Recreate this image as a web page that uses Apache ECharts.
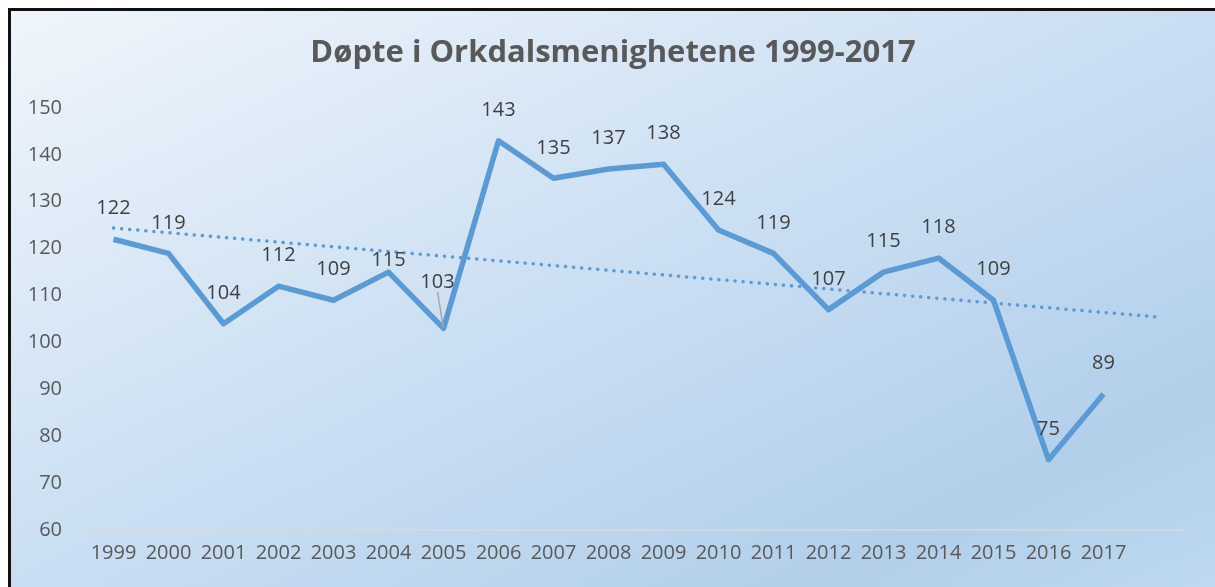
<!DOCTYPE html>
<html>
<head>
<meta charset="utf-8">
<script src="https://cdn.jsdelivr.net/npm/echarts@6/dist/echarts.min.js"></script>
<style>
body { margin: 0; background: #fff; }
#chart {
    position: absolute; left: 8px; top: 8px;
    width: 1204px; height: 576px;
    border-left: 3px solid #111; border-top: 3px solid #111;
    background: linear-gradient(to bottom right, #eff5fb 0%, #c9def2 50%, #b2cfea 83%, #bdd8ef 100%);
}
</style>
</head>
<body>
<div id="chart"></div>
<script>
// årstall (siste kategori er tom, trendlinja går ett år fram)
var years = ['1999', '2000', '2001', '2002', '2003', '2004', '2005', '2006', '2007', '2008',
             '2009', '2010', '2011', '2012', '2013', '2014', '2015', '2016', '2017', ''];
var dopte = [122, 119, 104, 112, 109, 115, 103, 143, 135, 137,
             138, 124, 119, 107, 115, 118, 109, 75, 89];
// trendlinje, lest av bildet: start og slutt
var trend = [[0, 124.4], [19, 105.4]];
var yTicks = [60, 150, 10];   // min, max, steg

var font = 'Open Sans';
var myChart = echarts.init(document.getElementById('chart'));

var points = dopte.map(function (v, i) {
    if (i == 6)  // 103 er flyttet opp med strek
        return { value: v, labelLine: { show: true, lineStyle: { color: '#a6a6a6', width: 1.5 } } };
    return v;
});

var option = {
    backgroundColor: 'transparent',
    title: {
        text: 'Døpte i Orkdalsmenighetene 1999-2017',
        left: 'center', top: 22,
        textStyle: { fontFamily: font, fontWeight: 'bold', fontSize: 31, color: '#595959' }
    },
    grid: { left: 75, width: 1100, top: 97, bottom: 57 },
    xAxis: {
        type: 'category',
        data: years,
        boundaryGap: true,
        axisLine: { lineStyle: { color: '#d9d9d9', width: 1.5 } },
        axisTick: { show: false },
        axisLabel: { fontFamily: font, fontSize: 20, color: '#595959', margin: 13, interval: 0 }
    },
    yAxis: {
        type: 'value',
        min: yTicks[0], max: yTicks[1], interval: yTicks[2],
        axisLine: { show: false },
        axisTick: { show: false },
        splitLine: { show: false },
        axisLabel: { fontFamily: font, fontSize: 20, color: '#595959', margin: 24 }
    },
    series: [
        {
            type: 'line',
            data: points,
            symbol: 'circle',
            symbolSize: 1,
            showSymbol: true,
            itemStyle: { color: 'transparent', borderWidth: 0 },
            lineStyle: { color: '#5b9bd5', width: 5.5, join: 'round' },
            label: {
                show: true, position: 'top', distance: 20,
                fontFamily: font, fontSize: 20, color: '#404040'
            },
            labelLayout: function (params) {
                if (params.dataIndex == 6)
                    return { dx: -6, dy: -16 };
                if (params.dataIndex == 5)
                    return { dy: 19 };
            },
            z: 3
        },
        {
            type: 'line',
            data: trend,
            symbol: 'none',
            lineStyle: { color: '#5b9bd5', width: 3.5, type: [0.1, 8], cap: 'round' },
            silent: true,
            z: 2
        }
    ]
};
myChart.setOption(option);
</script>
</body>
</html>
